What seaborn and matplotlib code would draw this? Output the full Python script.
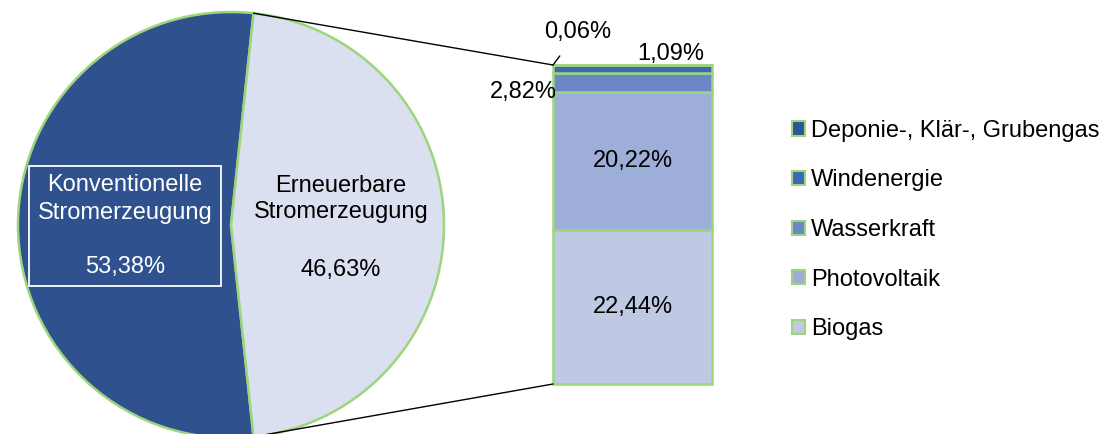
import numpy as np
import matplotlib
matplotlib.use("Agg")
import matplotlib.pyplot as plt
from matplotlib.patches import ConnectionPatch, Patch
import seaborn as sns

# ---- data ----
main_categories = ["Konventionelle\nStromerzeugung", "Erneuerbare\nStromerzeugung"]
main_values = [53.38, 46.63]
renew_categories = ["Biogas", "Photovoltaik", "Wasserkraft", "Windenergie",
                    "Deponie-, Klär-, Grubengas"]
renew_values = [22.44, 20.22, 2.82, 1.09, 0.06]

main_colors = ["#2F528F", "#DAE0EF"]
renew_colors = ["#BFC9E3", "#9DAED8", "#6C87C8", "#3F66B5", "#2E5496"]
edge_green = "#9DD57C"

def fmt(v):
    return f"{v:.2f}".replace(".", ",") + "%"

sns.set_theme(style="white")
plt.rcParams["font.family"] = ["Liberation Sans", "DejaVu Sans"]
plt.rcParams["text.color"] = "black"
FS = 17

W, H = 1106, 434
fig = plt.figure(figsize=(W / 100, H / 100), dpi=100)

# ---- pie ----
cx, cy, r = 231, 225, 213
ax_pie = fig.add_axes([(cx - r) / W, (H - cy - r) / H, 2 * r / W, 2 * r / H])
start = main_values[1] / sum(main_values) * 180
wedges, _ = ax_pie.pie(main_values, colors=main_colors, startangle=start,
                       counterclock=True,
                       wedgeprops=dict(edgecolor=edge_green, linewidth=1.8))
for w in wedges:
    w.set_clip_on(False)
ax_pie.set_xlim(-1, 1)
ax_pie.set_ylim(-1, 1)
ax_pie.set_aspect("equal")
ax_pie.axis("off")

ax_pie.text(-0.498, -0.005, main_categories[0] + "\n\n" + fmt(main_values[0]),
            ha="center", va="center", color="white", fontsize=FS,
            linespacing=1.3,
            bbox=dict(boxstyle="square,pad=0.36", fc="none", ec="white", lw=1.3))
ax_pie.text(0.516, 0.122, main_categories[1], ha="center", va="center",
            color="black", fontsize=FS, linespacing=1.26)
ax_pie.text(0.516, -0.211, fmt(main_values[1]), ha="center", va="center",
            color="black", fontsize=FS)

# ---- stacked bar ----
bx0, bx1, by0, by1 = 553, 712, 65, 384
ax_bar = fig.add_axes([bx0 / W, (H - by1) / H, (bx1 - bx0) / W, (by1 - by0) / H])
total = sum(renew_values)
bottoms = np.concatenate([[0], np.cumsum(renew_values)[:-1]])
for cat, v, b, c in zip(renew_categories, renew_values, bottoms, renew_colors):
    ax_bar.bar(0, v, bottom=b, width=1.0, color=c, edgecolor=edge_green,
               linewidth=1.8, label=cat, clip_on=False)
ax_bar.set_xlim(-0.5, 0.5)
ax_bar.set_ylim(0, total)
ax_bar.axis("off")

# labels inside big segments
for v, b in zip(renew_values[:2], bottoms[:2]):
    ax_bar.text(0, b + v / 2, fmt(v), ha="center", va="center",
                fontsize=FS, color="black")
# Wasserkraft label left of bar
ax_bar.annotate(fmt(renew_values[2]), xy=(-0.5, bottoms[2] + renew_values[2] / 2),
                xytext=(3, -7), textcoords="offset points",
                ha="right", va="center", fontsize=FS, annotation_clip=False)
# Windenergie label above right
ax_bar.annotate(fmt(renew_values[3]), xy=(0.03, total),
                xytext=(0, 8), textcoords="offset points",
                ha="left", va="center", fontsize=FS, annotation_clip=False)
# Deponie label with leader line
ax_bar.annotate(fmt(renew_values[4]), xy=(-0.5, total),
                xytext=(18, 24), textcoords="offset points",
                ha="center", va="center", fontsize=FS, annotation_clip=False,
                arrowprops=dict(arrowstyle="-", color="black", lw=1,
                                shrinkA=9, shrinkB=0))

# ---- connector lines ----
a = np.radians(start)
for sgn, ybar in [(1, total), (-1, 0)]:
    con = ConnectionPatch(xyA=(np.cos(a), sgn * np.sin(a)), coordsA=ax_pie.transData,
                          xyB=(-0.5, ybar), coordsB=ax_bar.transData,
                          color="black", lw=1)
    con.set_clip_on(False)
    fig.add_artist(con)

# ---- legend ----
handles = [Patch(facecolor=c, edgecolor=edge_green, linewidth=1.5)
           for c in renew_colors][::-1]
fig.legend(handles, renew_categories[::-1], loc="center left",
           bbox_to_anchor=(780 / W, (H - 230) / H), frameon=False,
           fontsize=FS, handlelength=0.55, handleheight=0.55,
           handletextpad=0.25, labelspacing=1.17, borderpad=0)

fig.savefig("out.png", dpi=100)
